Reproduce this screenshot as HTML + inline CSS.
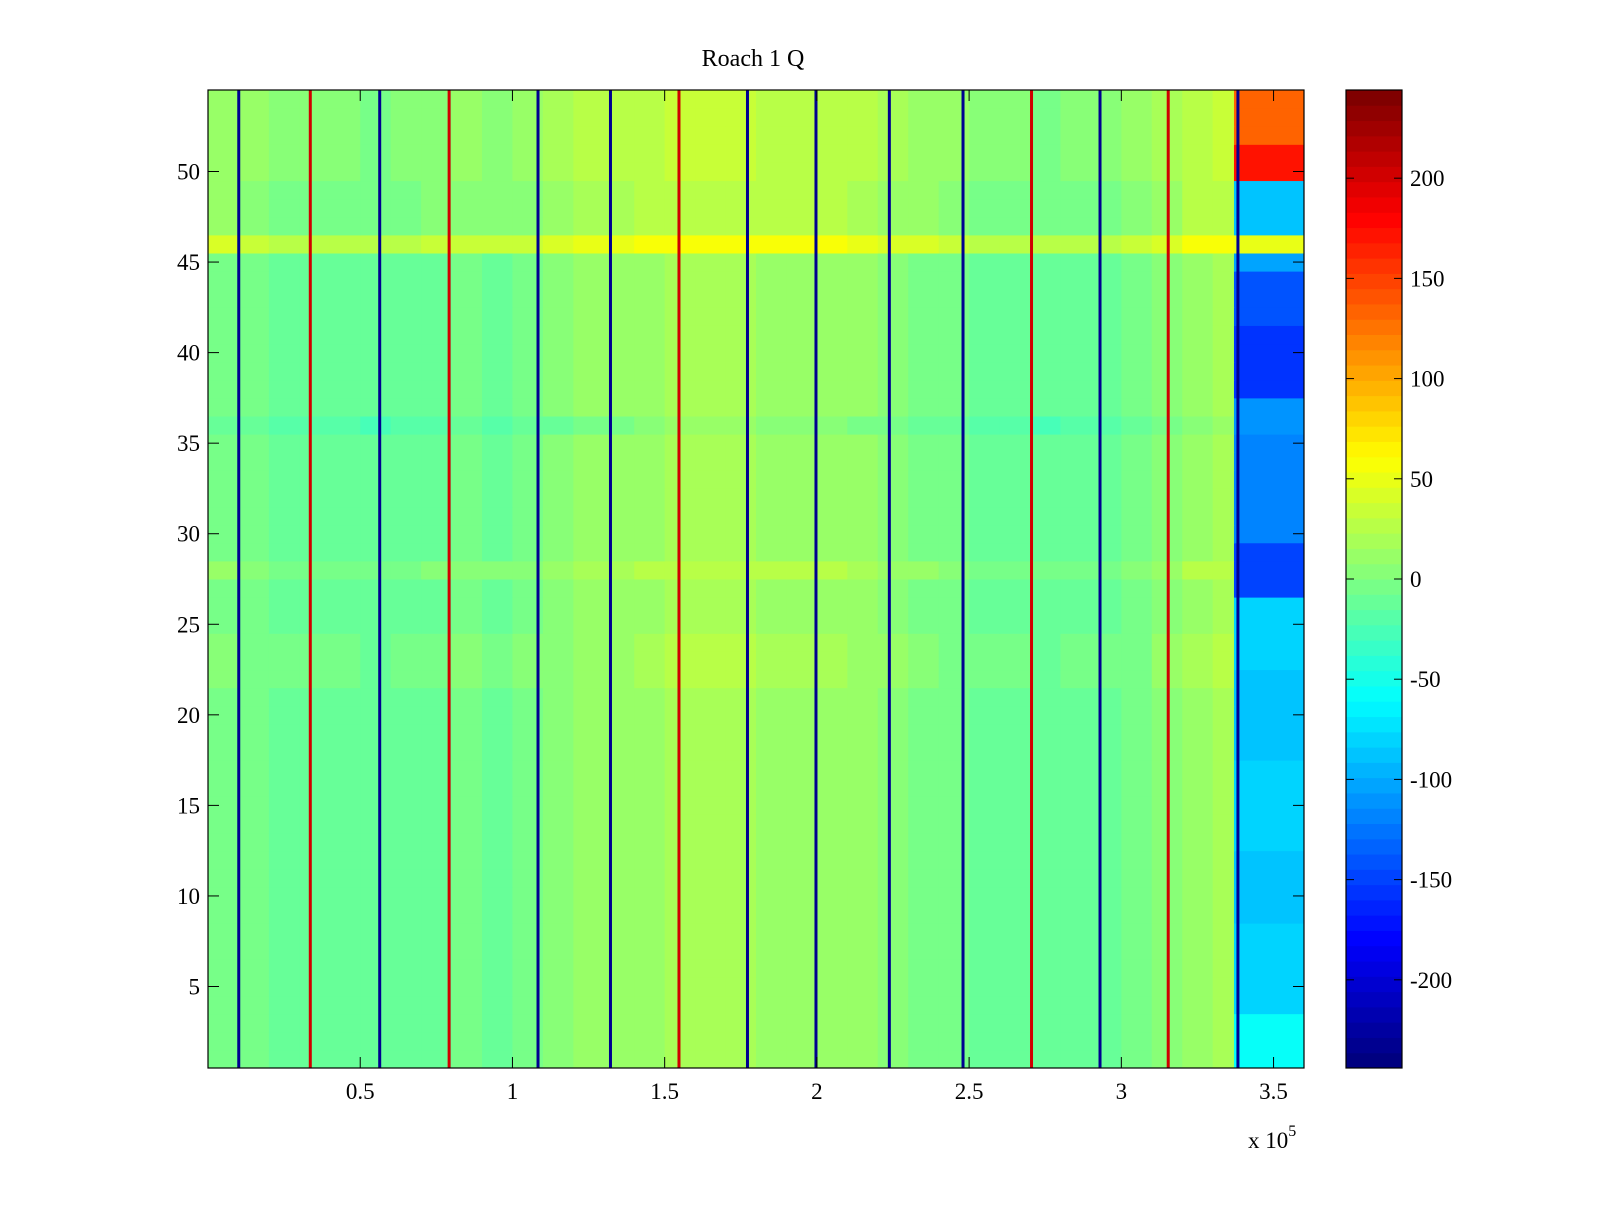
<!DOCTYPE html>
<html><head><meta charset="utf-8"><style>
body{margin:0;background:#fff;}
text{font-family:"Liberation Serif",serif;fill:#000;}
</style></head><body>
<svg id="chart" width="1600" height="1200" xmlns="http://www.w3.org/2000/svg">
<rect width="1600" height="1200" fill="#fff"/>
<text x="753" y="66" font-size="24" text-anchor="middle">Roach 1 Q</text>
<g id="cells"></g>
<g id="stripes"></g>
<g id="cbar"></g>
<g id="axes"></g>
</svg>
<script>
const colProfile=[0,-5,-10,-10,-12,-15,-10,-8,-3,-8,-3,2,8,10,15,20,20,18,15,15,15,10,5,0,-5,-12,-12,-15,-12,-10,-5,5,15,20];
const rowOffset=[0,0,0,0,0,0,0,0,0,0,0,0,0,0,0,0,0,0,0,0,0,5,5,5,0,0,0,10,0,0,0,0,0,0,0,-10,0,0,0,0,0,0,0,0,0,40,10,10,10,15,15,15,15,15];
const rightBlock=[-60,-60,-60,-80,-80,-80,-80,-80,-90,-90,-90,-90,-80,-80,-80,-80,-80,-90,-90,-90,-90,-90,-80,-80,-80,-80,-150,-150,-150,-120,-120,-120,-120,-120,-120,-110,-110,-160,-160,-160,-160,-140,-140,-140,-100,50,-90,-90,-90,170,170,130,130,130];
const stripeX=[0.101,0.336,0.564,0.792,1.084,1.322,1.547,1.772,1.997,2.238,2.480,2.705,2.930,3.154,3.383];
const stripeVal=[-230,200,-230,200,-230,-230,200,-230,-230,-230,-230,200,-230,200,-230];
const xTicks=[0.5,1,1.5,2,2.5,3,3.5];
const yTicks=[5,10,15,20,25,30,35,40,45,50];
const cTicks=[-200,-150,-100,-50,0,50,100,150,200];
const NS='http://www.w3.org/2000/svg';
const X0=208,X1=1304,Y0=90,Y1=1068,XMAX=3.6,NROWS=54,CMAX=244;
const xs=v=>X0+v/XMAX*(X1-X0);
const ys=r=>Y1-(r-0.5)/NROWS*(Y1-Y0);
const cy=v=>Y1-(v+CMAX)/(2*CMAX)*(Y1-Y0);
function jet(v){let t=(v+CMAX)/(2*CMAX);t=Math.max(0,Math.min(1,t));t=Math.floor(t*63.999)/63;
 const f=x=>Math.round(255*Math.max(0,Math.min(1,1.5-Math.abs(4*t-x))));return `rgb(${f(3)},${f(2)},${f(1)})`;}
function mk(tag,attrs,parent){const e=document.createElementNS(NS,tag);for(const k in attrs)e.setAttribute(k,attrs[k]);parent.appendChild(e);return e;}
const cells=document.getElementById('cells');
for(let i=0;i<NROWS;i++){
 const yt=ys(i+1.5),yb=ys(i+0.5);
 colProfile.forEach((v,j)=>{const a=j*0.1,b=Math.min((j+1)*0.1,3.37);
  const r=mk('rect',{x:xs(a),y:yt,width:xs(b)-xs(a)+0.5,height:yb-yt+0.5,fill:jet(v+rowOffset[i])},cells);
  
  });
 const r=mk('rect',{x:xs(3.37),y:yt,width:X1-xs(3.37),height:yb-yt+0.5,fill:jet(rightBlock[i])},cells);
 
 
}
const st=document.getElementById('stripes');
stripeX.forEach((v,k)=>{const r=mk('rect',{x:xs(v)-1.5,y:Y0,width:3,height:Y1-Y0,fill:jet(stripeVal[k])},st);
 
 });
const cb=document.getElementById('cbar');const CX0=1346,CX1=1402;
for(let k=0;k<64;k++){const v0=-CMAX+k*2*CMAX/64,v1=v0+2*CMAX/64;const ya=cy(v1),yb2=cy(v0);
 const r=mk('rect',{x:CX0,y:ya,width:CX1-CX0,height:yb2-ya+(k>0?0.5:0),fill:jet(v0+CMAX/64)},cb);
 
 }
mk('rect',{x:CX0,y:Y0,width:CX1-CX0,height:Y1-Y0,fill:'none',stroke:'#000','stroke-width':1.2},cb);
cTicks.forEach(v=>{const y=cy(v);
 mk('line',{x1:CX0,x2:CX0+8,y1:y,y2:y,stroke:'#000'},cb);mk('line',{x1:CX1-8,x2:CX1,y1:y,y2:y,stroke:'#000'},cb);
 const t=mk('text',{x:1410,y:y+8,'font-size':23},cb);t.textContent=v;
 
 });
const ax=document.getElementById('axes');
mk('rect',{x:X0,y:Y0,width:X1-X0,height:Y1-Y0,fill:'none',stroke:'#000','stroke-width':1.2},ax);
xTicks.forEach(v=>{const x=xs(v);
 mk('line',{x1:x,x2:x,y1:Y1,y2:Y1-11,stroke:'#000'},ax);mk('line',{x1:x,x2:x,y1:Y0,y2:Y0+11,stroke:'#000'},ax);
 const t=mk('text',{x:x,y:1099,'font-size':23,'text-anchor':'middle'},ax);t.textContent=v;
 
 });
yTicks.forEach(v=>{const y=ys(v);
 mk('line',{x1:X0,x2:X0+11,y1:y,y2:y,stroke:'#000'},ax);mk('line',{x1:X1-11,x2:X1,y1:y,y2:y,stroke:'#000'},ax);
 const t=mk('text',{x:200,y:y+8,'font-size':23,'text-anchor':'end'},ax);t.textContent=v;
 
 });
const ex=mk('text',{x:1248,y:1148,'font-size':23},ax);ex.innerHTML='x 10<tspan dy="-12" font-size="16">5</tspan>';


</script>
</body></html>
